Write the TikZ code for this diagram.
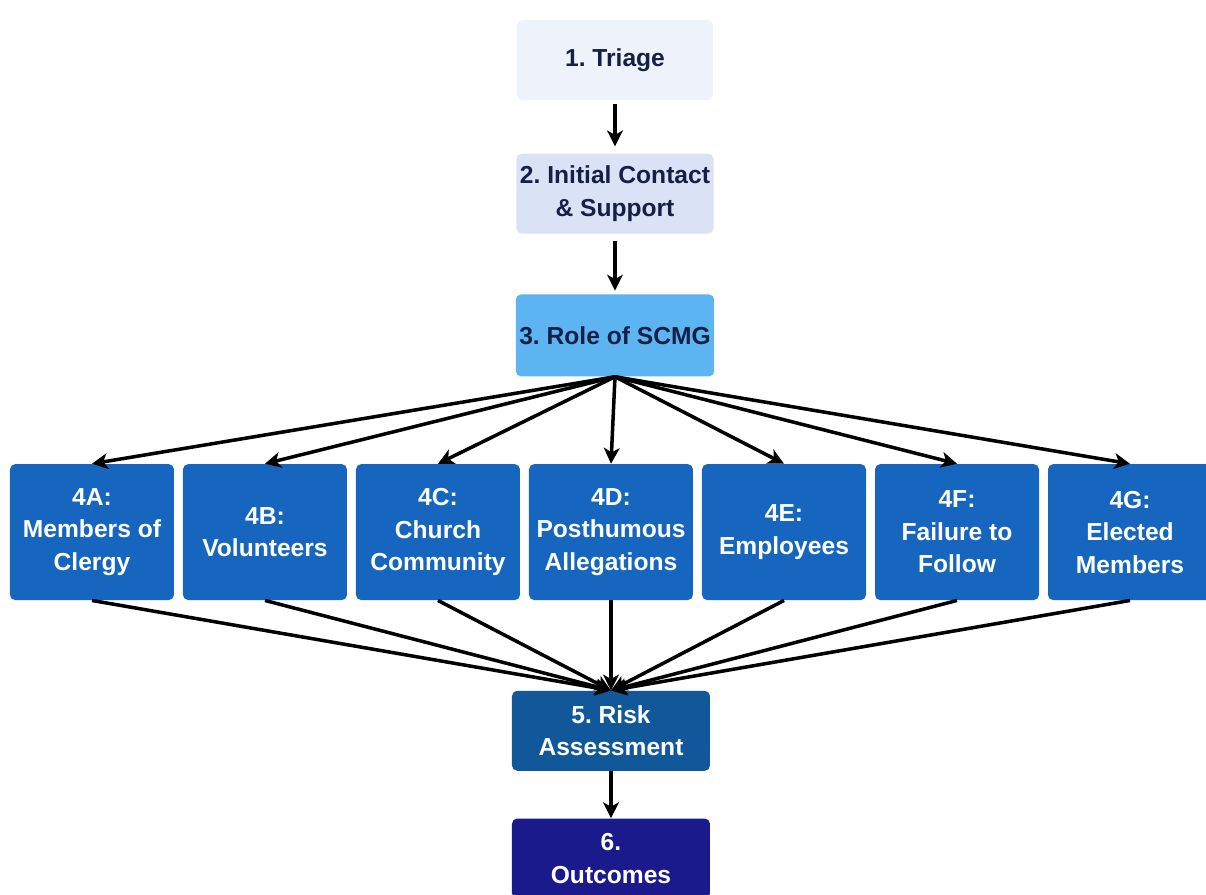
\documentclass[tikz,border=0pt]{standalone}
\usepackage{fontspec}
\setmainfont{Liberation Sans}
\usepackage{xcolor}
\usetikzlibrary{positioning,arrows.meta}
\frenchspacing
\definecolor{triagefill}{RGB}{237,242,251}
\definecolor{contactfill}{RGB}{218,226,246}
\definecolor{rolefill}{RGB}{92,180,240}
\definecolor{catblue}{RGB}{22,102,192}
\definecolor{riskfill}{RGB}{17,88,154}
\definecolor{outfill}{RGB}{26,26,140}
\definecolor{navytext}{RGB}{22,32,70}
\tikzset{
  stage/.style={ % common look of every box
    rectangle, rounded corners=3pt, align=center, inner sep=2pt,
    font=\bfseries\fontsize{14}{18.5}\selectfont
  },
  headbox/.style={ % steps 1 to 3
    stage, minimum width=3.92cm, minimum height=1.6cm, text=navytext
  },
  catbox/.style={ % the seven 4x categories
    stage, fill=catblue, text=white,
    minimum width=3.28cm, minimum height=2.72cm
  },
  lowbox/.style={ % steps 5 and 6
    stage, text=white, minimum width=3.96cm, minimum height=1.6cm
  },
  flow/.style={-{Stealth[length=9pt,width=9pt,inset=2.5pt]}, line width=2pt}
}
\begin{document}
\begin{tikzpicture}[node distance=0.166cm]
  \useasboundingbox (-12.3,1.2) rectangle (11.82,-16.7);

  \node[headbox, fill=triagefill] (triage) at (0,0) {1. Triage};
  \node[headbox, fill=contactfill, below=1.06cm of triage] (contact) {2. Initial Contact\\\& Support};
  \node[headbox, fill=rolefill, minimum height=1.64cm, below=1.2cm of contact] (role) {3. Role of SCMG};

  \node[catbox, below=1.74cm of role, xshift=-0.08cm] (c4d) {4D:\\Posthumous\\Allegations};
  \node[catbox, left=of c4d] (c4c) {4C:\\Church\\Community};
  \node[catbox, left=of c4c] (c4b) {4B:\\Volunteers};
  \node[catbox, left=of c4b] (c4a) {4A:\\Members of\\Clergy};
  \node[catbox, right=of c4d] (c4e) {4E:\\Employees};
  \node[catbox, right=of c4e] (c4f) {4F:\\Failure to\\Follow};
  \node[catbox, right=of c4f] (c4g) {4G:\\Elected\\Members};

  \node[lowbox, fill=riskfill, below=1.8cm of c4d] (risk) {5. Risk\\Assessment};
  \node[lowbox, fill=outfill, below=0.94cm of risk] (outcomes) {6.\\Outcomes};

  \draw[flow, shorten <=2pt, shorten >=4pt] (triage) -- (contact);
  \draw[flow, shorten <=4pt, shorten >=2pt] (contact) -- (role);
  \foreach \c in {a,...,g}
    \draw[flow] (role.south) -- (c4\c.north);
  \foreach \c in {a,...,g}
    \draw[flow] (c4\c.south) -- (risk.north);
  \draw[flow] (risk) -- (outcomes);
\end{tikzpicture}
\end{document}
